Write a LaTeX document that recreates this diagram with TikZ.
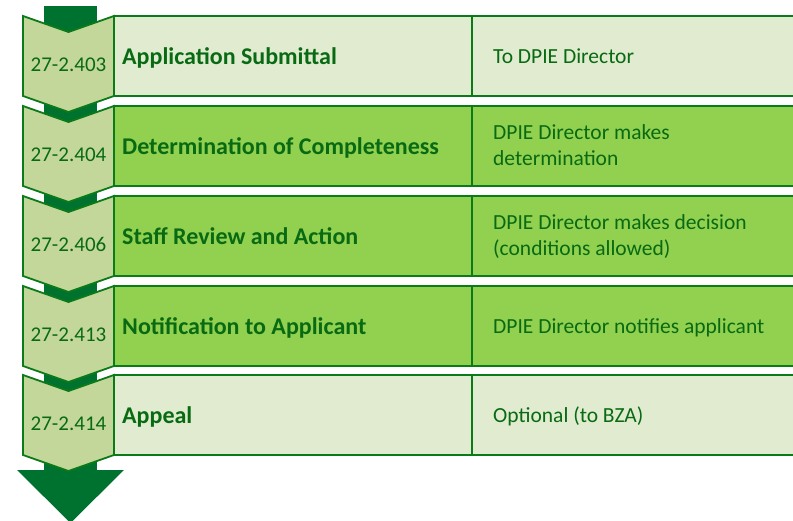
\documentclass[tikz,border=0pt]{standalone}
\usepackage{fontspec}
\setmainfont{Carlito}
\usepackage{xcolor}
\usepackage{tikz}

\definecolor{arrowgreen}{HTML}{00722F}
\definecolor{linegreen}{HTML}{0B7A18}
\definecolor{textgreen}{HTML}{086A12}
\definecolor{chevfill}{HTML}{C4D79B}
\definecolor{palefill}{HTML}{E1EBCF}
\definecolor{midfill}{HTML}{92D050}

\begin{document}
\begin{tikzpicture}[x=1pt, y=-1pt, line join=miter, text=textgreen,
    chevron/.style={draw=linegreen, line width=1.8pt, fill=chevfill},
    stepbar/.style={draw=linegreen, line width=1.8pt},
    codetext/.style={anchor=base, inner sep=0pt, font=\fontsize{21}{25}\selectfont},
    titletext/.style={anchor=base west, inner sep=0pt, font=\fontsize{24}{28}\selectfont\bfseries},
    notetext/.style={anchor=base west, inner sep=0pt, align=left, font=\fontsize{21.5}{26}\selectfont}]

  \useasboundingbox (0,0) rectangle (793,521);
  \clip (0,0) rectangle (793,521);

  % big arrow behind the steps
  \fill[arrowgreen] (44,6) rectangle (97,471);
  \fill[arrowgreen] (17,470) -- (124,470) -- (70.5,523) -- cycle;

  \foreach \i/\t/\code/\title/\note/\nb/\bg in {
      1/16/27-2.403/Application Submittal/To DPIE Director/48/palefill,
      2/106/27-2.404/Determination of Completeness/{DPIE Director makes\\determination}/60/midfill,
      3/196/27-2.406/Staff Review and Action/{DPIE Director makes decision\\(conditions allowed)}/60/midfill,
      4/286/27-2.413/Notification to Applicant/DPIE Director notifies applicant/48/midfill,
      5/375/27-2.414/Appeal/Optional (to BZA)/48/palefill} {
    % step box
    \draw[stepbar, fill=\bg] (114,\t) rectangle (800,\t+80);
    \draw[stepbar] (472,\t) -- (472,\t+80);
    % chevron
    \draw[chevron] (23,\t) -- (68.5,\t+16) -- (114,\t) -- (114,\t+80)
      -- (68.5,\t+96) -- (23,\t+80) -- cycle;
    \node[codetext] (code\i) at (68.5,\t+56) {\code};
    \node[titletext] (title\i) at (122,\t+49) {\title};
    \node[notetext] (note\i) at (493,\t+\nb) {\note};
  }
\end{tikzpicture}
\end{document}
